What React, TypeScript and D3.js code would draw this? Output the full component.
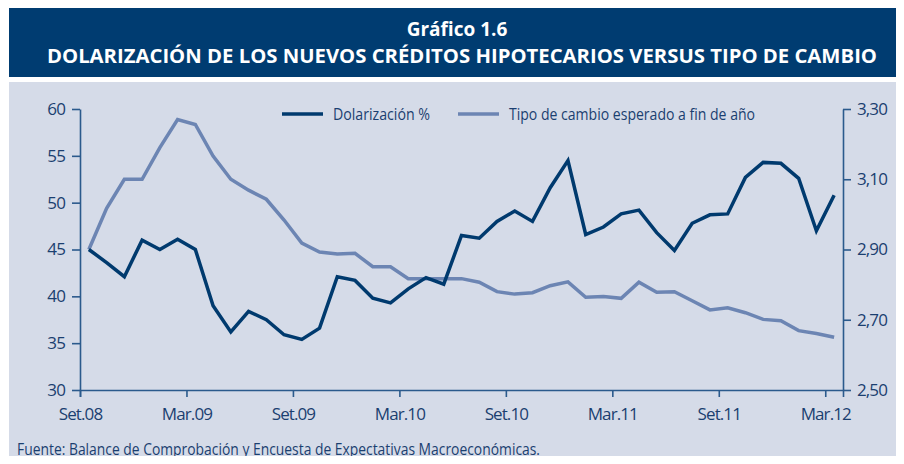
import React, { useEffect, useRef } from 'react';
import * as d3 from 'd3';

// monthly, Set.08 .. Mar.12
const dolarizacion = [
  45.0, 43.6, 42.1, 46.0, 45.0, 46.1, 45.0, 39.0, 36.2, 38.4, 37.5, 35.9, 35.4, 36.6,
  42.1, 41.7, 39.8, 39.3, 40.8, 42.0, 41.3, 46.5, 46.2, 48.0, 49.1, 48.0, 51.6, 54.5,
  46.6, 47.4, 48.8, 49.2, 46.8, 44.9, 47.8, 48.7, 48.8, 52.7, 54.3, 54.2, 52.6, 47.0, 50.8,
];
const tipoCambio = [
  2.90, 3.017, 3.10, 3.10, 3.19, 3.27, 3.256, 3.166, 3.10, 3.069, 3.043, 2.984, 2.918, 2.893,
  2.887, 2.889, 2.851, 2.851, 2.817, 2.817, 2.817, 2.817, 2.807, 2.78, 2.773, 2.777, 2.797, 2.808,
  2.764, 2.766, 2.761, 2.807, 2.778, 2.78, 2.754, 2.728, 2.734, 2.72, 2.701, 2.697, 2.669, 2.661, 2.65,
];
const xTickLabels = ['Set.08', 'Mar.09', 'Set.09', 'Mar.10', 'Set.10', 'Mar.11', 'Set.11', 'Mar.12'];
const leftTicks = [30, 35, 40, 45, 50, 55, 60];
const rightTicks = [2.5, 2.7, 2.9, 3.1, 3.3];

const DARK = '#003a6e';
const LIGHT = '#6c85b3';
const AXIS = '#2b5a8c';
const TEXT = '#1b3f70';
const FONT = "'Open Sans', sans-serif";

const App = () => {
  const ref = useRef(null);

  useEffect(() => {
    if (!ref.current) return;
    const root = d3.select(ref.current);
    root.selectAll('*').remove();

    const W = 904, H = 464;
    const svg = root.append('svg')
      .attr('width', W)
      .attr('height', H)
      .style('display', 'block');

    // header band
    svg.append('rect').attr('x', 9).attr('y', 8).attr('width', W - 9).attr('height', 69).attr('fill', '#003c71');
    svg.append('text')
      .attr('x', 457).attr('y', 36)
      .attr('text-anchor', 'middle')
      .attr('fill', '#fff')
      .style('font-family', FONT)
      .style('font-weight', 'bold')
      .style('font-size', '19px')
      .text('Gráfico 1.6');
    svg.append('text')
      .attr('x', 462).attr('y', 63)
      .attr('text-anchor', 'middle')
      .attr('fill', '#fff')
      .style('font-family', FONT)
      .style('font-weight', 'bold')
      .style('font-size', '19px')
      .attr('textLength', 830)
      .attr('lengthAdjust', 'spacingAndGlyphs')
      .text('DOLARIZACIÓN DE LOS NUEVOS CRÉDITOS HIPOTECARIOS VERSUS TIPO DE CAMBIO');

    // panel
    svg.append('rect').attr('x', 9).attr('y', 82).attr('width', W - 9).attr('height', H - 82).attr('fill', '#d5dbe8');

    const x = d3.scaleLinear().domain([-0.5, dolarizacion.length - 0.5]).range([80, 843]);
    const yL = d3.scaleLinear().domain([30, 60]).range([390, 109]);
    const yR = d3.scaleLinear().domain([2.5, 3.3]).range([390, 109]);

    const g = svg.append('g');

    // axes
    const xAxis = d3.axisBottom(x)
      .tickValues(xTickLabels.map((_, i) => i * 6 - 0.5))
      .tickFormat((_, i) => xTickLabels[i])
      .tickSizeOuter(0)
      .tickSize(7)
      .tickPadding(11);
    const gx = g.append('g').attr('transform', 'translate(0,390)').call(xAxis);

    const gl = g.append('g').attr('transform', 'translate(80,0)')
      .call(d3.axisLeft(yL).tickValues(leftTicks).tickFormat(d3.format('d')).tickSize(8).tickSizeOuter(0).tickPadding(7));

    const gr = g.append('g').attr('transform', 'translate(843,0)')
      .call(d3.axisRight(yR).tickValues(rightTicks).tickFormat(d => d3.format('.2f')(d).replace('.', ',')).tickSize(8).tickSizeOuter(0).tickPadding(6));

    [gx, gl, gr].forEach(a => {
      a.select('.domain').attr('stroke', AXIS).attr('stroke-width', 1.6);
      a.selectAll('.tick line').attr('stroke', AXIS).attr('stroke-width', 1.6);
      a.selectAll('.tick text')
        .attr('fill', TEXT)
        .style('font-family', FONT)
        .style('font-size', '17px')
        .style('letter-spacing', '-0.9px');
    });

    // lines
    const lineL = d3.line().x((_, i) => x(i)).y(d => yL(d));
    const lineR = d3.line().x((_, i) => x(i)).y(d => yR(d));

    g.append('path').datum(tipoCambio).attr('d', lineR)
      .attr('fill', 'none').attr('stroke', LIGHT).attr('stroke-width', 3.5).attr('stroke-linejoin', 'miter');
    g.append('path').datum(dolarizacion).attr('d', lineL)
      .attr('fill', 'none').attr('stroke', DARK).attr('stroke-width', 3.5).attr('stroke-linejoin', 'miter');

    // legend
    const legend = [
      { label: 'Dolarización %', color: DARK, x: 282, w: 97 },
      { label: 'Tipo de cambio esperado a fin de año', color: LIGHT, x: 458, w: 246 },
    ];
    legend.forEach(l => {
      svg.append('line').attr('x1', l.x).attr('x2', l.x + 41).attr('y1', 114).attr('y2', 114)
        .attr('stroke', l.color).attr('stroke-width', 3.5);
      svg.append('text').attr('x', l.x + 51).attr('y', 120)
        .attr('fill', TEXT)
        .style('font-family', FONT)
        .style('font-size', '16px')
        .attr('textLength', l.w)
        .attr('lengthAdjust', 'spacingAndGlyphs')
        .text(l.label);
    });

    // source
    svg.append('text').attr('x', 17).attr('y', 455)
      .attr('fill', TEXT)
      .style('font-family', FONT)
      .style('font-size', '16px')
      .attr('textLength', 523)
      .attr('lengthAdjust', 'spacingAndGlyphs')
      .text('Fuente: Balance de Comprobación y Encuesta de Expectativas Macroeconómicas.');
  }, []);

  return <div ref={ref} style={{ margin: -8 }} />;
};

export default App;
